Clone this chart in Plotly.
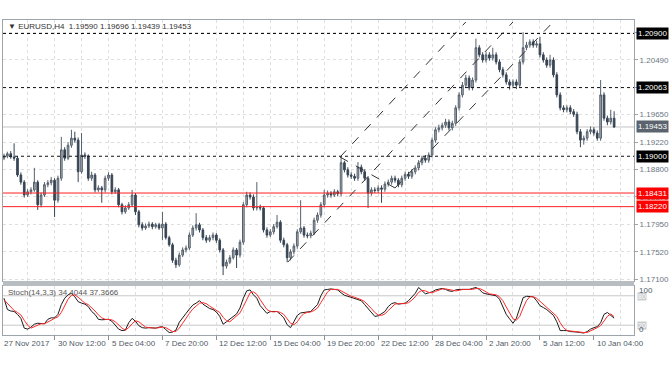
import plotly.graph_objects as go

# ---------------- data ----------------
closes = [
 1.1900, 1.1904, 1.1899, 1.1897, 1.1871, 1.1860, 1.1840, 1.1845, 1.1848, 1.1860,
 1.1825, 1.1840, 1.1856, 1.1859, 1.1863, 1.1832, 1.1866, 1.1910, 1.1897, 1.1917,
 1.1928, 1.1925, 1.1876, 1.1902, 1.1900, 1.1866, 1.1871, 1.1848, 1.1851, 1.1848,
 1.1866, 1.1871, 1.1845, 1.1848, 1.1825, 1.1814, 1.1820, 1.1825, 1.1840, 1.1814,
 1.1794, 1.1789, 1.1792, 1.1795, 1.1791, 1.1794, 1.1789, 1.1795, 1.1774, 1.1763,
 1.1739, 1.1732, 1.1747, 1.1755, 1.1758, 1.1778, 1.1789, 1.1794, 1.1786, 1.1774,
 1.1770, 1.1774, 1.1778, 1.1770, 1.1755, 1.1730, 1.1736, 1.1743, 1.1755, 1.1747,
 1.1767, 1.1825, 1.1840, 1.1837, 1.1820, 1.1821, 1.1820, 1.1786, 1.1778, 1.1783,
 1.1791, 1.1798, 1.1770, 1.1763, 1.1743, 1.1752, 1.1761, 1.1783, 1.1789, 1.1778,
 1.1777, 1.1781, 1.1801, 1.1809, 1.1825, 1.1840, 1.1843, 1.1840, 1.1845, 1.1842,
 1.1890, 1.1879, 1.1871, 1.1869, 1.1866, 1.1883, 1.1876, 1.1866, 1.1843, 1.1848,
 1.1847, 1.1851, 1.1849, 1.1857, 1.1860, 1.1866, 1.1863, 1.1856, 1.1866, 1.1872,
 1.1869, 1.1876, 1.1882, 1.1890, 1.1897, 1.1894, 1.1902, 1.1925, 1.1941, 1.1944,
 1.1948, 1.1953, 1.1944, 1.1951, 1.1975, 1.1995, 1.2010, 1.2021, 1.2006, 1.2018,
 1.2068, 1.2057, 1.2049, 1.2057, 1.2052, 1.2057, 1.2046, 1.2034, 1.2026, 1.2015,
 1.2010, 1.2015, 1.2010, 1.2046, 1.2068, 1.2072, 1.2077, 1.2072, 1.2074, 1.2057,
 1.2049, 1.2041, 1.2049, 1.2026, 1.1995, 1.1975, 1.1972, 1.1975, 1.1969, 1.1965,
 1.1938, 1.1925, 1.1928, 1.1938, 1.1941, 1.1936, 1.1928, 1.1995, 1.1959, 1.1953,
 1.1959, 1.19453]

opens = [
 1.1897, 1.1900, 1.1904, 1.1899, 1.1897, 1.1871, 1.1860, 1.1840, 1.1845, 1.1848,
 1.1860, 1.1825, 1.1840, 1.1856, 1.1859, 1.1863, 1.1832, 1.1866, 1.1910, 1.1897,
 1.1917, 1.1928, 1.1925, 1.1876, 1.1902, 1.1900, 1.1866, 1.1871, 1.1848, 1.1851,
 1.1848, 1.1866, 1.1871, 1.1845, 1.1848, 1.1825, 1.1814, 1.1820, 1.1825, 1.1840,
 1.1814, 1.1794, 1.1789, 1.1792, 1.1795, 1.1791, 1.1794, 1.1789, 1.1795, 1.1774,
 1.1763, 1.1739, 1.1732, 1.1747, 1.1755, 1.1758, 1.1778, 1.1789, 1.1794, 1.1786,
 1.1774, 1.1770, 1.1774, 1.1778, 1.1770, 1.1755, 1.1730, 1.1736, 1.1743, 1.1755,
 1.1747, 1.1767, 1.1825, 1.1840, 1.1837, 1.1820, 1.1821, 1.1820, 1.1786, 1.1778,
 1.1783, 1.1791, 1.1798, 1.1770, 1.1763, 1.1743, 1.1752, 1.1761, 1.1783, 1.1789,
 1.1778, 1.1777, 1.1781, 1.1801, 1.1809, 1.1825, 1.1840, 1.1843, 1.1840, 1.1845,
 1.1842, 1.1890, 1.1879, 1.1871, 1.1869, 1.1866, 1.1883, 1.1876, 1.1866, 1.1843,
 1.1848, 1.1847, 1.1851, 1.1849, 1.1857, 1.1860, 1.1866, 1.1863, 1.1856, 1.1866,
 1.1872, 1.1869, 1.1876, 1.1882, 1.1890, 1.1897, 1.1894, 1.1902, 1.1925, 1.1941,
 1.1944, 1.1948, 1.1953, 1.1944, 1.1951, 1.1975, 1.1995, 1.2010, 1.2021, 1.2006,
 1.2018, 1.2068, 1.2057, 1.2049, 1.2057, 1.2052, 1.2057, 1.2046, 1.2034, 1.2026,
 1.2015, 1.2010, 1.2015, 1.2010, 1.2046, 1.2068, 1.2072, 1.2077, 1.2072, 1.2074,
 1.2057, 1.2049, 1.2041, 1.2049, 1.2026, 1.1995, 1.1975, 1.1972, 1.1975, 1.1969,
 1.1965, 1.1938, 1.1925, 1.1928, 1.1938, 1.1941, 1.1936, 1.1928, 1.1995, 1.1959,
 1.1953, 1.19590]

highs = [
 1.1904, 1.1907, 1.1908, 1.1920, 1.1900, 1.1875, 1.1863, 1.1849, 1.1852, 1.1882,
 1.1863, 1.1844, 1.1860, 1.1863, 1.1868, 1.1866, 1.1870, 1.1930, 1.1914, 1.1922,
 1.1941, 1.1938, 1.1929, 1.1936, 1.1906, 1.1903, 1.1876, 1.1874, 1.1855, 1.1854,
 1.1870, 1.1875, 1.1874, 1.1852, 1.1851, 1.1828, 1.1824, 1.1829, 1.1848, 1.1843,
 1.1817, 1.1798, 1.1796, 1.1799, 1.1798, 1.1797, 1.1797, 1.1814, 1.1798, 1.1777,
 1.1766, 1.1743, 1.1751, 1.1759, 1.1762, 1.1782, 1.1793, 1.1812, 1.1797, 1.1789,
 1.1778, 1.1778, 1.1782, 1.1781, 1.1773, 1.1758, 1.1740, 1.1747, 1.1759, 1.1758,
 1.1771, 1.1829, 1.1845, 1.1844, 1.1841, 1.1860, 1.1825, 1.1823, 1.1790, 1.1787,
 1.1795, 1.1809, 1.1801, 1.1774, 1.1766, 1.1756, 1.1765, 1.1787, 1.1832, 1.1792,
 1.1782, 1.1785, 1.1805, 1.1813, 1.1829, 1.1848, 1.1847, 1.1846, 1.1849, 1.1848,
 1.1899, 1.1893, 1.1883, 1.1875, 1.1873, 1.1891, 1.1887, 1.1880, 1.1869, 1.1852,
 1.1852, 1.1855, 1.1855, 1.1861, 1.1864, 1.1870, 1.1870, 1.1866, 1.1870, 1.1876,
 1.1876, 1.1880, 1.1886, 1.1894, 1.1901, 1.1902, 1.1906, 1.1929, 1.1945, 1.1949,
 1.1952, 1.1958, 1.1957, 1.1955, 1.1979, 1.1999, 1.2015, 1.2026, 1.2025, 1.2022,
 1.2082, 1.2072, 1.2061, 1.2061, 1.2061, 1.2068, 1.2061, 1.2050, 1.2038, 1.2030,
 1.2019, 1.2019, 1.2019, 1.2050, 1.2092, 1.2077, 1.2081, 1.2081, 1.2079, 1.2085,
 1.2061, 1.2053, 1.2057, 1.2053, 1.2030, 1.1999, 1.1979, 1.1979, 1.1979, 1.1973,
 1.1969, 1.1942, 1.1932, 1.1942, 1.1946, 1.1945, 1.1940, 1.2018, 1.1999, 1.1963,
 1.1972, 1.19696]

lows = [
 1.1894, 1.1897, 1.1896, 1.1893, 1.1868, 1.1856, 1.1836, 1.1837, 1.1841, 1.1845,
 1.1817, 1.1821, 1.1837, 1.1852, 1.1855, 1.1806, 1.1828, 1.1862, 1.1893, 1.1894,
 1.1913, 1.1921, 1.1860, 1.1873, 1.1896, 1.1862, 1.1862, 1.1844, 1.1845, 1.1828,
 1.1844, 1.1862, 1.1841, 1.1842, 1.1821, 1.1810, 1.1811, 1.1817, 1.1822, 1.1809,
 1.1790, 1.1785, 1.1786, 1.1789, 1.1787, 1.1788, 1.1786, 1.1770, 1.1771, 1.1760,
 1.1735, 1.1727, 1.1729, 1.1744, 1.1751, 1.1755, 1.1775, 1.1785, 1.1782, 1.1770,
 1.1766, 1.1767, 1.1770, 1.1766, 1.1751, 1.1716, 1.1726, 1.1733, 1.1740, 1.1727,
 1.1743, 1.1763, 1.1821, 1.1833, 1.1816, 1.1816, 1.1816, 1.1782, 1.1774, 1.1775,
 1.1779, 1.1788, 1.1766, 1.1759, 1.1736, 1.1739, 1.1748, 1.1757, 1.1780, 1.1774,
 1.1773, 1.1773, 1.1778, 1.1797, 1.1805, 1.1821, 1.1836, 1.1836, 1.1837, 1.1838,
 1.1838, 1.1875, 1.1867, 1.1865, 1.1862, 1.1862, 1.1872, 1.1862, 1.1820, 1.1839,
 1.1843, 1.1843, 1.1828, 1.1845, 1.1853, 1.1856, 1.1859, 1.1852, 1.1852, 1.1862,
 1.1865, 1.1865, 1.1872, 1.1878, 1.1886, 1.1890, 1.1890, 1.1898, 1.1921, 1.1937,
 1.1940, 1.1944, 1.1940, 1.1940, 1.1947, 1.1971, 1.1991, 1.2006, 1.2002, 1.2002,
 1.2014, 1.2053, 1.2045, 1.2045, 1.2048, 1.2048, 1.2042, 1.2030, 1.2022, 1.2011,
 1.2003, 1.2006, 1.2004, 1.2006, 1.2042, 1.2064, 1.2068, 1.2068, 1.2068, 1.2053,
 1.2045, 1.2037, 1.2037, 1.2022, 1.1991, 1.1971, 1.1968, 1.1968, 1.1965, 1.1961,
 1.1934, 1.1914, 1.1918, 1.1924, 1.1934, 1.1932, 1.1924, 1.1924, 1.1955, 1.1948,
 1.1949, 1.19439]

stoch_k = [
 75, 52, 49, 48, 42, 34, 14, 12, 16, 22,
 24, 23, 23, 32, 35, 35, 42, 62, 75, 82,
 85, 78, 68, 65, 63, 58, 48, 42, 32, 31,
 32, 32, 28, 21, 12, 9, 10, 25, 34, 28,
 19, 15, 14, 15, 14, 14, 16, 17, 11, 5,
 6, 10, 26, 36, 44, 53, 61, 65, 70, 63,
 59, 54, 52, 47, 38, 22, 27, 33, 38, 43,
 55, 75, 90, 92, 82, 75, 60, 52, 44, 48,
 48, 48, 42, 35, 21, 15, 27, 40, 45, 46,
 48, 48, 55, 62, 80, 92, 93, 94, 93, 92,
 86, 81, 79, 77, 75, 72, 70, 62, 54, 45,
 38, 39, 43, 48, 58, 64, 66, 63, 64, 65,
 70, 78, 85, 97, 90, 84, 86, 88, 92, 94,
 95, 93, 90, 89, 92, 93, 93, 92, 93, 95,
 97, 93, 86, 84, 83, 82, 80, 73, 56, 42,
 33, 24, 34, 55, 76, 79, 78, 78, 70, 60,
 56, 52, 46, 40, 27, 9, 9, 9, 7, 7,
 6, 5, 4, 7, 12, 15, 17, 25, 42, 46,
 41, 34.4044]

stoch_d = [
 72, 65, 58, 50, 46, 41, 30, 20, 14, 17,
 21, 23, 23, 26, 30, 34, 37, 46, 60, 73,
 81, 82, 77, 70, 65, 62, 56, 49, 41, 35,
 32, 32, 31, 27, 20, 14, 10, 15, 23, 29,
 27, 21, 16, 15, 14, 14, 15, 16, 15, 11,
 7, 7, 14, 24, 35, 44, 53, 60, 65, 66,
 64, 59, 55, 51, 46, 36, 29, 27, 33, 38,
 45, 58, 73, 86, 88, 83, 72, 62, 52, 48,
 47, 48, 46, 42, 33, 24, 21, 27, 37, 44,
 46, 47, 50, 55, 66, 78, 88, 93, 93, 93,
 90, 86, 82, 79, 77, 75, 72, 68, 62, 54,
 46, 41, 40, 43, 50, 57, 63, 64, 64, 64,
 66, 71, 78, 87, 91, 90, 87, 86, 89, 91,
 94, 94, 93, 91, 90, 91, 93, 93, 93, 93,
 95, 95, 92, 88, 84, 83, 82, 78, 70, 57,
 44, 33, 30, 38, 55, 70, 78, 78, 75, 69,
 62, 56, 51, 46, 38, 25, 15, 9, 8, 8,
 7, 6, 5, 5, 8, 11, 15, 19, 28, 38,
 43, 37.3666]

date_labels = ["27 Nov 2017", "30 Nov 12:00", "5 Dec 04:00", "7 Dec 20:00",
               "12 Dec 12:00", "15 Dec 04:00", "19 Dec 20:00", "22 Dec 12:00",
               "28 Dec 04:00", "2 Jan 20:00", "5 Jan 12:00", "10 Jan 04:00"]
date_label_bars = [-0.3, 15, 31, 47, 63, 79, 95, 111, 127, 143, 159, 175]
grid_bars_minor = [7, 23, 39, 55, 71, 87, 103, 119, 135, 151, 167, 183]

price_ticks = [1.17100, 1.17520, 1.17950, 1.18370, 1.18800, 1.19220,
               1.19650, 1.20070, 1.20490, 1.20910]
# ticks whose labels sit under the level boxes in the reference
hidden_tick_labels = [1.20070, 1.20910]

black_levels = [1.20900, 1.20063, 1.19000]
red_levels = [1.18431, 1.18220]
bid_price = 1.19453

# trend lines: (bar, price) endpoints
trend_lines = [
    ((99.7, 1.18988), (137.0, 1.21078)),
    ((84.2, 1.17363), (151.0, 1.21078)),
    ((116.0, 1.18509), (162.9, 1.21078)),
    ((99.7, 1.18988), (116.0, 1.18509)),
]

# ---------------- figure ----------------
FONT = "Liberation Sans"
bars = list(range(len(closes)))

fig = go.Figure()
fig.add_trace(go.Candlestick(
    x=bars, open=opens, high=highs, low=lows, close=closes,
    increasing=dict(line=dict(color="#56606b", width=1), fillcolor="#aab2ba"),
    decreasing=dict(line=dict(color="#384554", width=1), fillcolor="#384554"),
    whiskerwidth=0, hoverinfo="skip", xaxis="x", yaxis="y"))

fig.add_trace(go.Scatter(x=bars, y=stoch_k, mode="lines",
                         line=dict(color="#1a1a1a", width=1),
                         xaxis="x2", yaxis="y2", hoverinfo="skip"))
fig.add_trace(go.Scatter(x=bars, y=stoch_d, mode="lines",
                         line=dict(color="#ff2a2a", width=1),
                         xaxis="x2", yaxis="y2", hoverinfo="skip"))

shapes = []
for lv in black_levels:
    shapes.append(dict(type="line", xref="x domain", yref="y", x0=0, x1=1, y0=lv, y1=lv,
                       line=dict(color="#111111", width=1, dash="dot")))
for lv in red_levels:
    shapes.append(dict(type="line", xref="x domain", yref="y", x0=0, x1=1, y0=lv, y1=lv,
                       line=dict(color="#ff2020", width=1)))
shapes.append(dict(type="line", xref="x domain", yref="y", x0=0, x1=1, y0=bid_price, y1=bid_price,
                   line=dict(color="#c4c4c4", width=1), layer="below"))
for (a, b) in trend_lines:
    shapes.append(dict(type="line", xref="x", yref="y", x0=a[0], y0=a[1], x1=b[0], y1=b[1],
                       line=dict(color="#333333", width=1, dash="dash")))
for lv in (20, 80):
    shapes.append(dict(type="line", xref="x2 domain", yref="y2", x0=0, x1=1, y0=lv, y1=lv,
                       line=dict(color="#c8c8c8", width=1), layer="below"))
# separator band between panels
shapes.append(dict(type="rect", xref="paper", yref="paper", x0=0, x1=1, y0=0.1556, y1=0.1714,
                   fillcolor="#b8bdc2", line=dict(width=0)))

ann = []
ann.append(dict(xref="paper", yref="paper", x=0.004, y=0.978, xanchor="left", yanchor="middle",
                text="▼ EURUSD,H4  1.19590 1.19696 1.19439 1.19453", showarrow=False,
                font=dict(family=FONT, size=8, color="#333333")))
ann.append(dict(xref="paper", yref="paper", x=0.004, y=0.1365, xanchor="left", yanchor="middle",
                text="Stoch(14,3,3) 34.4044 37.3666", showarrow=False,
                font=dict(family=FONT, size=8, color="#555555")))
for lbl, b in zip(date_labels, date_label_bars):
    ann.append(dict(xref="x2", yref="paper", x=b, y=-0.0254, xanchor="left", yanchor="middle",
                    xshift=-1 if b < 0 else 1, text=lbl, showarrow=False,
                    font=dict(family=FONT, size=8, color="#4f5a66")))


def price_box(price, bg):
    return dict(xref="paper", yref="y", x=1.003, y=price, xanchor="left", yanchor="middle",
                text="%.5f" % price, showarrow=False, bgcolor=bg, borderpad=1,
                font=dict(family=FONT, size=8, color="white"))


for lv in black_levels:
    ann.append(price_box(lv, "#000000"))
ann.append(price_box(bid_price, "#5b646e"))
for lv in red_levels:
    ann.append(price_box(lv, "#ff0000"))

for txt, yy in (("80", 0.1238), ("20", 0.0317)):
    ann.append(dict(xref="paper", yref="paper", x=1.005, y=yy, xanchor="left", yanchor="middle",
                    text=txt, showarrow=False, bgcolor="#c8ccd0", borderpad=0,
                    font=dict(family=FONT, size=7, color="#ffffff")))
for txt, yy in (("100", 0.1397), ("0", 0.0159)):
    ann.append(dict(xref="paper", yref="paper", x=1.005, y=yy, xanchor="left", yanchor="middle",
                    text=txt, showarrow=False,
                    font=dict(family=FONT, size=8, color="#4f5a66")))

border = "#9ea4aa"
grid = "#dedede"
xr = [-0.3, 186.9]

fig.update_layout(
    width=672, height=372, margin=dict(l=3, r=38, t=20, b=37),
    paper_bgcolor="white", plot_bgcolor="white", showlegend=False, hovermode=False,
    shapes=shapes, annotations=ann,
    xaxis=dict(domain=[0, 1], anchor="y", range=xr, rangeslider=dict(visible=False),
               tickvals=date_label_bars[1:], showticklabels=False, ticks="",
               showgrid=True, gridcolor=grid, griddash="dot", gridwidth=1,
               minor=dict(tickvals=grid_bars_minor, showgrid=True, gridcolor=grid,
                          griddash="dot", ticks=""),
               showline=True, mirror=True, linecolor=border, zeroline=False),
    yaxis=dict(domain=[0.1714, 1], anchor="x", side="right", range=[1.17069, 1.21109],
               tickvals=price_ticks,
               ticktext=["" if v in hidden_tick_labels else "%.5f" % v for v in price_ticks],
               tickfont=dict(family=FONT, size=8, color="#6b7682"),
               ticks="outside", ticklen=3, tickcolor="#9ea4aa",
               showgrid=True, gridcolor=grid, griddash="dot",
               showline=True, mirror=True, linecolor=border, zeroline=False),
    xaxis2=dict(domain=[0, 1], anchor="y2", range=xr, matches="x",
                tickvals=date_label_bars[1:], showticklabels=False, ticks="outside",
                ticklen=4, tickcolor="#8a9096",
                showgrid=True, gridcolor=grid, griddash="dot",
                minor=dict(tickvals=grid_bars_minor, showgrid=True, gridcolor=grid,
                           griddash="dot", ticks=""),
                showline=True, mirror=True, linecolor=border, zeroline=False),
    yaxis2=dict(domain=[0, 0.1556], anchor="x2", side="right", range=[0, 100],
                showticklabels=False, ticks="", showgrid=False,
                showline=True, mirror=True, linecolor=border, zeroline=False),
)

fig.write_html(
    "out.html",
    config={"displayModeBar": False, "staticPlot": True},
    post_script="document.body.style.margin='0px';document.body.style.overflow='hidden';"
                "document.documentElement.style.overflow='hidden';",
)
